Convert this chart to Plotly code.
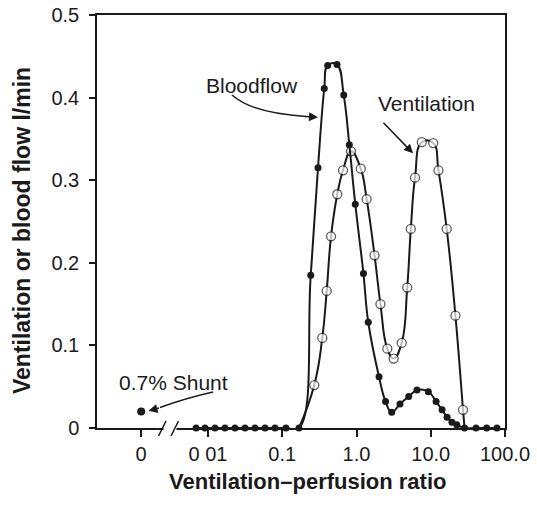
import plotly.graph_objects as go

# ---- data ----
# Blood flow distribution: V/Q ratio of each compartment and blood flow (l/min)
blood_ratio = [0.0069, 0.0091, 0.0124, 0.0169, 0.0231, 0.0315, 0.0430, 0.0586, 0.0798, 0.112, 0.168,
               0.242, 0.303, 0.368, 0.409, 0.546, 0.673, 0.800, 0.963, 1.24, 1.44, 2.01, 2.46, 2.98,
               3.85, 5.05, 6.53, 9.27, 11.8, 14.2, 16.6, 19.3, 22.4, 28.5, 40.7, 56.7, 78.0]
blood_flow = [0, 0, 0, 0, 0, 0, 0, 0, 0, 0, 0,
              0.185, 0.315, 0.411, 0.439, 0.440, 0.403, 0.343, 0.271, 0.187, 0.128, 0.062, 0.032, 0.019,
              0.029, 0.038, 0.046, 0.044, 0.032, 0.022, 0.013, 0.007, 0.004, 0, 0, 0, 0]

# Ventilation distribution: V/Q ratio and ventilation (l/min)
vent_ratio = [0.168, 0.270, 0.346, 0.397, 0.454, 0.551, 0.658, 0.843, 1.14, 1.37, 1.75, 2.10, 2.60,
              3.17, 4.06, 4.82, 5.39, 6.14, 7.57, 10.8, 12.7, 16.4, 21.5, 27.2, 28.5]
vent_flow = [0, 0.052, 0.109, 0.166, 0.232, 0.283, 0.312, 0.335, 0.314, 0.277, 0.209, 0.150, 0.096,
             0.084, 0.103, 0.170, 0.241, 0.303, 0.346, 0.345, 0.312, 0.241, 0.136, 0.022, 0]

# Shunt (V/Q = 0)
shunt_flow = [0.02]

# Axis ticks
SHUNT_POS = 10 ** -2.9          # where the "0" (shunt) category sits on the broken log axis
x_tickvals = [SHUNT_POS, 0.01, 0.1, 1, 10, 100]
x_ticktext = ["0", "0 01", "0.1", "1.0", "10.0", "100.0"]
y_tickvals = [0, 0.1, 0.2, 0.3, 0.4, 0.5]
y_ticktext = ["0", "0.1", "0.2", "0.3", "0.4", "0.5"]

# ---- figure ----
INK = "#1a1a1a"
FONT = "Liberation Sans, Arial, sans-serif"

fig = go.Figure()

fig.add_trace(go.Scatter(
    x=vent_ratio, y=vent_flow, mode="lines+markers", name="Ventilation",
    line=dict(color=INK, width=2, shape="spline", smoothing=1.3),
    marker=dict(symbol="circle", color="white", size=[0 if v == 0 else 9 for v in vent_flow],
                line=dict(color=INK, width=1.3)),
    cliponaxis=False, showlegend=False))

fig.add_trace(go.Scatter(
    x=blood_ratio, y=blood_flow, mode="lines+markers", name="Bloodflow",
    line=dict(color=INK, width=2, shape="spline", smoothing=1.2),
    marker=dict(symbol="circle", color=INK, size=7),
    cliponaxis=False, showlegend=False))

fig.add_trace(go.Scatter(
    x=[SHUNT_POS], y=shunt_flow, mode="markers", name="Shunt",
    marker=dict(symbol="circle", color=INK, size=8),
    cliponaxis=False, showlegend=False))

L, R, T, B = 97, 32, 15, 79
W, H = 537, 507
PW, PH = W - L - R, H - T - B


def px(xp):
    return (xp - L) / PW


def py(yp):
    return (H - B - yp) / PH


shapes = []
# axis break on the x axis
shapes.append(dict(type="rect", xref="paper", yref="paper", x0=px(163.5), x1=px(176.5),
                   y0=py(432), y1=py(424), fillcolor="white", line=dict(width=0), layer="above"))
for x0, x1 in [(158.5, 166), (171, 178.5)]:
    shapes.append(dict(type="line", xref="paper", yref="paper", x0=px(x0), y0=py(436),
                       x1=px(x1), y1=py(421), line=dict(color=INK, width=1.5), layer="above"))
# curved arrow shafts
shapes.append(dict(type="path", xref="paper", yref="paper",
                   path=f"M {px(232)},{py(95)} Q {px(252)},{py(113)} {px(306)},{py(116.4)}",
                   line=dict(color=INK, width=1.5), layer="above"))
shapes.append(dict(type="path", xref="paper", yref="paper",
                   path=f"M {px(213)},{py(392)} Q {px(186)},{py(398)} {px(160)},{py(407.5)}",
                   line=dict(color=INK, width=1.5), layer="above"))


def label(text, x, y, size, bold=False, angle=0):
    return dict(text=f"<b>{text}</b>" if bold else text, x=px(x), y=py(y), xref="paper",
                yref="paper", showarrow=False, xanchor="center", yanchor="middle",
                textangle=angle, font=dict(size=size, color=INK, family=FONT))


def arrow(x, y, ax, ay):
    return dict(text="", x=px(x), y=py(y), xref="paper", yref="paper", showarrow=True,
                ax=ax, ay=ay, arrowhead=2, arrowsize=1.2, arrowwidth=1.5, arrowcolor=INK)


annotations = [
    label("Bloodflow", 252, 85, 21),
    label("Ventilation", 426, 103, 21),
    label("0.7% Shunt", 173, 382, 21),
    arrow(318, 117.3, -14, -1),
    arrow(413, 153.3, -31, -32),
    arrow(148.5, 410.7, 12, -3),
    label("Ventilation\u2013perfusion ratio", 307, 481, 22, bold=True),
    label("Ventilation or blood flow l/min", 22, 231, 23, bold=True, angle=-90),
]

fig.update_layout(
    width=W, height=H, margin=dict(l=L, r=R, t=T, b=B, pad=0),
    paper_bgcolor="white", plot_bgcolor="white",
    font=dict(family=FONT, color=INK, size=20),
    shapes=shapes, annotations=annotations,
    xaxis=dict(type="log", range=[-3.495, 2.0], tickvals=x_tickvals, ticktext=x_ticktext,
               automargin=False,
               showgrid=False, zeroline=False, showline=True, linecolor=INK, linewidth=1.5,
               mirror=True, ticks="outside", ticklen=7, tickwidth=1.5, tickcolor=INK,
               tickfont=dict(size=20, color=INK, family=FONT)),
    yaxis=dict(range=[0, 0.5], tickvals=y_tickvals, ticktext=y_ticktext,
               automargin=False, ticklabelstandoff=6,
               showgrid=False, zeroline=False, showline=True, linecolor=INK, linewidth=1.5,
               mirror=True, ticks="outside", ticklen=6, tickwidth=1.5, tickcolor=INK,
               tickfont=dict(size=20, color=INK, family=FONT)),
)

fig.write_html("out.html")
